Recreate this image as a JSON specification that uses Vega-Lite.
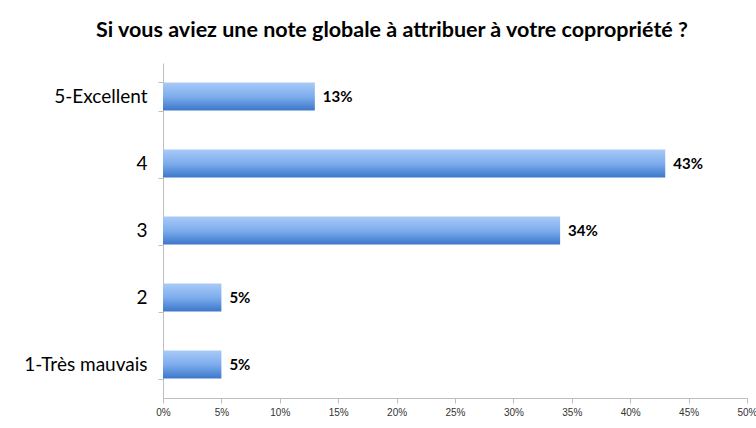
{
  "$schema": "https://vega.github.io/schema/vega-lite/v6.json",
  "width": 584,
  "height": 335,
  "autosize": "none",
  "padding": {"left": 163, "top": 63, "right": 9, "bottom": 30},
  "background": "white",
  "title": {
    "text": "Si vous aviez une note globale à attribuer à votre copropriété ?",
    "font": "Lato",
    "fontSize": 21.5,
    "fontWeight": "bold",
    "color": "black",
    "anchor": "middle",
    "dx": -63,
    "offset": 13
  },
  "data": {
    "values": [
      {"note": "5-Excellent", "pct": 0.13},
      {"note": "4", "pct": 0.43},
      {"note": "3", "pct": 0.34},
      {"note": "2", "pct": 0.05},
      {"note": "1-Très mauvais", "pct": 0.05}
    ]
  },
  "encoding": {
    "y": {
      "field": "note",
      "type": "nominal",
      "sort": null,
      "scale": {"paddingInner": 0.58, "paddingOuter": 0.29},
      "axis": {
        "title": null,
        "bandPosition": 0,
        "tickBand": "extent",
        "domainColor": "#bfbfbf",
        "tickColor": "#bfbfbf",
        "tickSize": 5,
        "labelPadding": 11,
        "labelFont": "Lato",
        "labelFontSize": 19,
        "labelColor": "black"
      }
    },
    "x": {
      "field": "pct",
      "type": "quantitative",
      "scale": {"domain": [0, 0.5], "nice": false},
      "axis": {
        "title": null,
        "format": ".0%",
        "values": [0, 0.05, 0.1, 0.15, 0.2, 0.25, 0.3, 0.35, 0.4, 0.45, 0.5],
        "grid": false,
        "domainColor": "#bfbfbf",
        "tickColor": "#bfbfbf",
        "tickSize": 5,
        "labelPadding": 4,
        "labelFont": "Liberation Sans",
        "labelFontSize": 10,
        "labelColor": "#333333",
        "labelFlush": false,
        "labelOverlap": false
      }
    }
  },
  "layer": [
    {
      "mark": {
        "type": "bar",
        "color": {
          "gradient": "linear",
          "x1": 0, "y1": 0, "x2": 0, "y2": 1,
          "stops": [
            {"offset": 0, "color": "#a8caf7"},
            {"offset": 0.5, "color": "#7eaded"},
            {"offset": 1, "color": "#3b77c9"}
          ]
        }
      }
    },
    {
      "mark": {
        "type": "text",
        "align": "left",
        "dx": 8,
        "font": "Lato",
        "fontSize": 15,
        "fontWeight": "bold",
        "color": "black"
      },
      "encoding": {
        "text": {"field": "pct", "type": "quantitative", "format": ".0%"}
      }
    }
  ],
  "config": {"view": {"stroke": null}}
}
